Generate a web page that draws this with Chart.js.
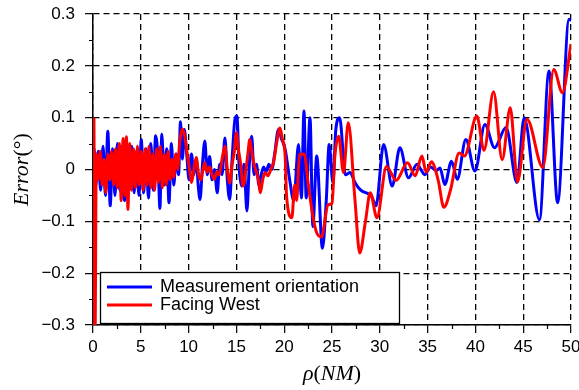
<!DOCTYPE html>
<html>
<head>
<meta charset="utf-8">
<script src="https://cdn.jsdelivr.net/npm/chart.js@4.4.1/dist/chart.umd.min.js"></script>
<style>
  html, body { margin: 0; padding: 0; background: #fff; }
</style>
</head>
<body>
<canvas id="grafica" width="579" height="390"></canvas>
<script>
// datos: rho (NM) -> error (grados)
const blueX = [0, 0.12, 0.3, 0.55, 0.8, 1.05, 1.3, 1.55, 1.8, 2.05, 2.3, 2.55, 2.8, 3.05, 3.3, 3.55, 3.8, 4.05, 4.3, 4.55, 4.8,
  5.05, 5.3, 5.55, 5.8, 6.05, 6.3, 6.55, 6.8, 7.0, 7.2, 7.45, 7.7, 7.95, 8.2, 8.45, 8.7, 8.95, 9.15, 9.35, 9.55, 9.8,
  10.05, 10.3, 10.55, 10.8, 11.0, 11.2, 11.45, 11.7, 11.95, 12.2, 12.45, 12.7, 13.0, 13.25, 13.5, 13.8, 14.05, 14.3,
  14.55, 14.85, 15.05, 15.3, 15.55, 15.8, 16.1, 16.35, 16.6, 16.85, 17.1, 17.35, 17.6, 17.85, 18.1, 18.4, 18.7, 19.0,
  19.4, 19.7, 20.1, 20.6, 21.0, 21.5, 21.8, 22.07, 22.3, 22.7, 23.0, 23.4, 24.0, 24.4, 24.7, 25.1, 25.4, 25.8,
  26.4, 26.9, 27.4, 28.0, 28.7, 29.1, 29.6, 30.4, 31.3, 32.1, 33.0, 33.9, 34.3, 34.7, 35.3, 35.9, 36.3, 36.8,
  37.5, 38.1, 39.0, 39.95, 41.0, 42.0, 43.2, 44.35, 45.1, 46.7, 47.7, 48.6, 49.8, 50];
const blueY = [-0.35, 0.04, -0.03, 0.035, -0.04, 0.045, -0.05, 0.074, -0.07, 0.04, -0.05, 0.05, -0.04, 0.045, -0.06, 0.05, -0.04, 0.045, -0.045, 0.035, -0.05,
  0.058, -0.045, 0.04, -0.055, 0.05, -0.04, 0.065, 0.02, -0.075, 0.068, -0.03, 0.04, -0.064, 0.05, -0.03, 0.03, -0.01, 0.092, 0.02, 0.077, 0.03,
  -0.02, 0.03, -0.01, 0.02, -0.03, -0.058, 0.01, 0.055, -0.01, 0.025, -0.02, 0.0, -0.045, 0.01, -0.01, 0.061, -0.02, -0.058,
  0.02, 0.097, 0.103, 0.0, -0.032, 0.01, -0.08, 0.01, 0.064, -0.01, 0.01, -0.03, -0.01, 0.005, -0.005, 0.01, 0.0, 0.03,
  0.077, 0.06, 0.039, -0.023, -0.06, 0.048, -0.055, 0.113, -0.055, 0.1, -0.11, 0.026, -0.152, -0.06, 0.048, -0.026, 0.077, 0.1,
  -0.01, -0.006, -0.025, -0.04, -0.046, -0.05, -0.07, 0.048, -0.032, 0.042, -0.016, 0.01, 0.0, -0.01, 0.005, -0.002, 0.003, -0.029,
  0.016, -0.019, 0.058, -0.003, 0.087, 0.042, 0.081, -0.025, 0.1, -0.097, 0.19, -0.064, 0.29, 0.287];

const redX = [0.1, 0.2, 0.35, 0.55, 0.75, 0.95, 1.15, 1.35, 1.55, 1.75, 1.95, 2.15, 2.35, 2.55, 2.75, 2.95, 3.15, 3.35, 3.5, 3.65, 3.85,
  4.05, 4.25, 4.45, 4.65, 4.85, 5.05, 5.25, 5.45, 5.65, 5.85, 6.05, 6.25, 6.45, 6.65, 6.85, 7.05, 7.25, 7.45, 7.65, 7.85,
  8.05, 8.25, 8.45, 8.65, 8.85, 9.05, 9.35, 9.6, 9.85, 10.1, 10.3, 10.55, 10.8, 11.05, 11.3, 11.5, 11.7, 11.95, 12.2,
  12.45, 12.7, 12.95, 13.2, 13.5, 13.8, 14.05, 14.3, 14.55, 14.75, 15.0, 15.2, 15.45, 15.7, 16.0, 16.2, 16.4, 16.65, 16.85,
  17.1, 17.3, 17.5, 17.75, 18.0, 18.3, 18.6, 18.9, 19.2, 19.55, 19.8, 20.1, 20.25, 20.8, 21.1, 21.3, 21.6, 22.1, 22.5, 23.0, 23.4,
  23.9, 24.6, 25.0, 25.3, 25.7, 26.2, 26.7, 27.4, 27.9, 28.5, 29.0, 29.7, 30.7, 31.7, 32.9, 33.7, 34.4, 34.85,
  35.4, 36.1, 36.7, 37.4, 38.3, 38.85, 40.15, 40.9, 41.9, 42.8, 43.65, 44.4, 45.4, 47.05, 48.2, 49.1, 50];
const redY = [0.1, -0.35, 0.03, -0.02, 0.035, -0.03, 0.02, -0.045, 0.03, -0.02, 0.035, -0.03, 0.04, -0.035, 0.05, -0.06, 0.06, -0.05, 0.063, -0.077, 0.05,
  -0.04, 0.04, -0.035, 0.045, -0.03, 0.035, -0.04, 0.04, -0.03, 0.045, -0.035, 0.03, -0.04, 0.04, -0.025, 0.045, -0.035, 0.03, -0.03, 0.035,
  -0.02, 0.02, -0.015, 0.03, 0.0, 0.05, 0.078, 0.064, 0.03, 0.0, -0.025, 0.0, 0.023, -0.01, -0.02, 0.0, 0.013, -0.005, 0.005,
  -0.01, -0.019, -0.005, -0.01, 0.02, 0.045, 0.0, -0.026, 0.01, 0.03, 0.071, 0.04, 0.01, -0.032, 0.0, 0.03, 0.058, 0.03, 0.01,
  -0.006, -0.02, -0.045, -0.02, -0.006, -0.012, 0.0, 0.015, 0.05, 0.08, 0.06, 0.026, -0.052, -0.093, -0.03, -0.06, 0.029, 0.03, -0.026, -0.09, -0.122,
  -0.13, -0.068, -0.065, 0.026, 0.064, -0.006, 0.09, -0.058, -0.161, -0.1, -0.045, -0.093, 0.006, -0.021, 0.013, -0.012, 0.026, -0.005,
  0.015, -0.02, -0.073, -0.039, 0.032, 0.026, 0.103, 0.037, 0.15, 0.019, 0.119, -0.024, 0.097, 0.004, 0.193, 0.148, 0.242];

const etiquetas = ["Measurement orientation", "Facing West"];
const colores = ["#0000ff", "#ff0000"];

const xTicks = [0, 5, 10, 15, 20, 25, 30, 35, 40, 45, 50];
const xTickLabels = ["0", "5", "10", "15", "20", "25", "30", "35", "40", "45", "50"];
const yTicks = [-0.3, -0.2, -0.1, 0, 0.1, 0.2, 0.3];
const yTickLabels = ["\u22120.3", "\u22120.2", "\u22120.1", "0", "0.1", "0.2", "0.3"];
const xMinor = [2.5, 7.5, 12.5, 17.5, 22.5, 27.5, 32.5, 37.5, 42.5, 47.5];
const yMinor = [-0.25, -0.15, -0.05, 0.05, 0.15, 0.25];

function puntos(xs, ys) {
  return xs.map((x, i) => ({ x: x, y: ys[i] }));
}

// leyenda y titulos de ejes dibujados a mano (estilo matlab)
const extras = {
  id: "extras",
  afterDraw(chart) {
    const ctx = chart.ctx;
    const sx = chart.scales.x, sy = chart.scales.y;

    // ticks menores
    ctx.save();
    ctx.strokeStyle = "#000";
    ctx.lineWidth = 1.2;
    ctx.beginPath();
    xMinor.forEach(v => {
      let px = Math.round(sx.getPixelForValue(v)) + 0.5;
      ctx.moveTo(px, sy.bottom);
      ctx.lineTo(px, sy.bottom + 4);
    });
    yMinor.forEach(v => {
      let py = Math.round(sy.getPixelForValue(v)) + 0.5;
      ctx.moveTo(sx.left, py);
      ctx.lineTo(sx.left - 4, py);
    });
    ctx.stroke();

    // leyenda
    const lx = 100, ly = 272, lw = 299, lh = 51;
    ctx.fillStyle = "#fff";
    ctx.fillRect(lx, ly, lw, lh);
    ctx.lineWidth = 1.3;
    ctx.strokeRect(lx + 0.5, ly + 0.5, lw, lh);
    ctx.font = "18px 'Liberation Sans', Arial, sans-serif";
    ctx.textBaseline = "middle";
    ctx.textAlign = "left";
    chart.data.datasets.forEach((ds, i) => {
      let y = ly + 15 + i * 18;
      ctx.strokeStyle = ds.borderColor;
      ctx.lineWidth = 3;
      ctx.beginPath();
      ctx.moveTo(lx + 7, y);
      ctx.lineTo(lx + 52, y);
      ctx.stroke();
      ctx.fillStyle = "#000";
      ctx.fillText(ds.label, lx + 60, y);
    });

    // titulos
    ctx.fillStyle = "#000";
    ctx.textBaseline = "alphabetic";
    const cx = (sx.left + sx.right) / 2;
    escribirMath(ctx, [["\u03c1", true], ["(", false], ["NM", true], [")", false]], cx, 380);
    ctx.save();
    ctx.translate(28, (sy.top + sy.bottom) / 2);
    ctx.rotate(-Math.PI / 2);
    escribirMath(ctx, [["Error", true], ["(", false], ["\u00b0", false], [")", false]], 0, 0);
    ctx.restore();
    ctx.restore();
  }
};

function escribirMath(ctx, partes, cx, y) {
  const fuente = it => (it ? "italic " : "") + "22px 'Liberation Serif', 'Times New Roman', serif";
  let total = 0;
  partes.forEach(p => { ctx.font = fuente(p[1]); total += ctx.measureText(p[0]).width; });
  let x = cx - total / 2;
  ctx.textAlign = "left";
  partes.forEach(p => {
    ctx.font = fuente(p[1]);
    ctx.fillText(p[0], x, y);
    x += ctx.measureText(p[0]).width;
  });
}

const ctx = document.getElementById("grafica").getContext("2d");
const grafica = new Chart(ctx, {
  type: "line",
  data: {
    datasets: [
      { label: etiquetas[0], data: puntos(blueX, blueY), borderColor: colores[0], order: 2 },
      { label: etiquetas[1], data: puntos(redX, redY), borderColor: colores[1], order: 1 }
    ]
  },
  options: {
    responsive: false,
    animation: false,
    devicePixelRatio: 1,
    layout: { padding: { left: 0, right: 8, top: 14, bottom: 0 } },
    elements: {
      point: { radius: 0 },
      line: { borderWidth: 3, cubicInterpolationMode: "monotone", fill: false }
    },
    datasets: { line: { clip: 0 } },
    plugins: { legend: { display: false }, tooltip: { enabled: false } },
    scales: {
      x: {
        type: "linear", min: 0, max: 50,
        afterBuildTicks: s => { s.ticks = xTicks.map(v => ({ value: v })); },
        afterFit: s => { s.height = 65; s.paddingLeft = 0; s.paddingRight = 0; },
        ticks: {
          callback: (v, i) => xTickLabels[i],
          color: "#000", padding: 4, maxRotation: 0,
          font: { family: "'Liberation Sans', Arial, sans-serif", size: 17 }
        },
        grid: { color: "#000", lineWidth: 1.3, tickLength: 8, tickColor: "#000", tickWidth: 1.2 },
        border: { display: true, color: "#000", width: 1.5, dash: [6, 4] }
      },
      y: {
        type: "linear", min: -0.3, max: 0.3,
        afterBuildTicks: s => { s.ticks = yTicks.map(v => ({ value: v })); },
        afterFit: s => { s.width = 93; s.paddingTop = 0; s.paddingBottom = 0; },
        ticks: {
          callback: (v, i) => yTickLabels[i],
          color: "#000", padding: 10,
          font: { family: "'Liberation Sans', Arial, sans-serif", size: 17 }
        },
        grid: { color: "#000", lineWidth: 1.3, tickLength: 8, tickColor: "#000", tickWidth: 1.2 },
        border: { display: true, color: "#000", width: 1.5, dash: [6, 4] }
      }
    }
  },
  plugins: [extras]
});
</script>
</body>
</html>
